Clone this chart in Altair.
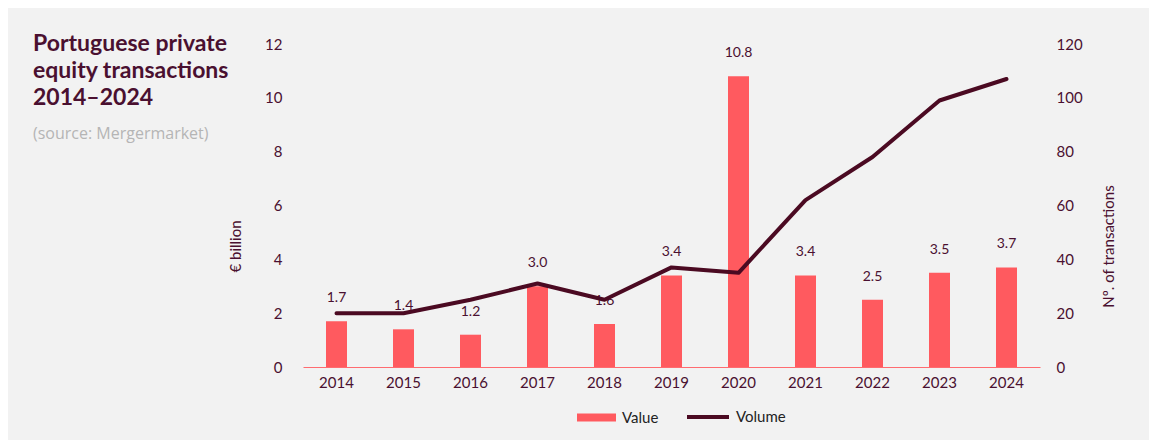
import altair as alt
import pandas as pd

years = ["2014", "2015", "2016", "2017", "2018", "2019", "2020", "2021", "2022", "2023", "2024"]
value_bn = [1.7, 1.4, 1.2, 3.0, 1.6, 3.4, 10.8, 3.4, 2.5, 3.5, 3.7]
volume_n = [20, 20, 25, 31, 25, 37, 35, 62, 78, 99, 107]
left_ticks = [0, 2, 4, 6, 8, 10, 12]
right_ticks = [0, 20, 40, 60, 80, 100, 120]

MAROON = "#4a1030"
LINE = "#4b0a22"
RED = "#ff5a5f"
FONT = "Lato"

df = pd.DataFrame({
    "year": years,
    "value": value_bn,
    "volume": volume_n,
    "s_value": ["Value"] * len(years),
    "s_volume": ["Volume"] * len(years),
})

x_enc = alt.X(
    "year:N",
    title=None,
    scale=alt.Scale(paddingInner=0, paddingOuter=0),
    axis=alt.Axis(labelAngle=0, domain=True, domainColor="#ff6b70", domainWidth=1,
                  ticks=False, grid=False, labelPadding=8, labelFontSize=15,
                  labelColor=MAROON, labelFont=FONT),
)

left_axis = alt.Axis(values=left_ticks, domain=False, ticks=False, grid=False,
                     labelPadding=21, labelFontSize=15, labelColor=MAROON, labelFont=FONT,
                     title="€ billion", titleAngle=270, titleX=-68, titleY=202,
                     titleAlign="center", titleBaseline="middle",
                     titleFontSize=15, titleFontWeight="normal", titleColor=MAROON,
                     titleFont=FONT)

y_left = alt.Y("value:Q", scale=alt.Scale(domain=[0, 12], nice=False), axis=left_axis)

bars = alt.Chart(df).mark_bar(size=21).encode(
    x=x_enc,
    y=y_left,
    fill=alt.Fill("s_value:N", scale=alt.Scale(domain=["Value"], range=[RED]),
                  legend=alt.Legend(title=None, orient="none", legendX=274, legendY=354,
                                    symbolType="M-1,-0.2H1V0.2H-1Z", symbolSize=1521,
                                    symbolStrokeWidth=0, labelOffset=6,
                                    labelFontSize=15, labelColor="#222222", labelFont=FONT)),
)

labels = alt.Chart(df).mark_text(dy=-23, baseline="middle", fontSize=14, color=MAROON,
                                 font=FONT).encode(
    x=alt.X("year:N"),
    y=y_left,
    text=alt.Text("value:Q", format=".1f"),
)

line = alt.Chart(df).mark_line(strokeWidth=4, strokeCap="round", strokeJoin="round").encode(
    x=alt.X("year:N"),
    y=alt.Y("volume:Q", scale=alt.Scale(domain=[0, 120], nice=False),
            axis=alt.Axis(orient="right", values=right_ticks, domain=False, ticks=False,
                          grid=False, labelPadding=16, labelFontSize=15, labelColor=MAROON,
                          labelFont=FONT, title="Nº. of transactions", titleAngle=270,
                          titleX=68, titleY=202, titleAlign="center", titleBaseline="middle",
                          titleFontSize=15, titleFontWeight="normal", titleColor=MAROON,
                          titleFont=FONT)),
    stroke=alt.Stroke("s_volume:N", scale=alt.Scale(domain=["Volume"], range=[LINE]),
                      legend=alt.Legend(title=None, orient="none", legendX=382, legendY=350,
                                        symbolType="stroke", symbolSize=1764,
                                        symbolStrokeWidth=4, labelOffset=5,
                                        labelFontSize=15, labelColor="#222222",
                                        labelFont=FONT)),
)

chart = alt.layer(alt.layer(bars, labels), line).resolve_scale(
    y="independent"
).properties(
    width=737,
    height=323,
    background="#f2f2f2",
    padding={"left": 295, "top": 36, "right": 109, "bottom": 73},
    autosize=alt.AutoSizeParams(type="none"),
    title=alt.Title(
        text=["Portuguese private", "equity transactions", "2014–2024"],
        subtitle="(source: Mergermarket)",
        anchor="start", orient="top", frame="group",
        dx=-270, offset=-105,
        font=FONT, fontSize=23, fontWeight="bold", color=MAROON, lineHeight=27,
        subtitleFont="Open Sans", subtitleFontSize=16, subtitleColor="#b5b5b5",
        subtitlePadding=16,
    ),
).configure_view(stroke=None)

chart.save("out.html", embed_options={"renderer": "svg", "actions": False})
